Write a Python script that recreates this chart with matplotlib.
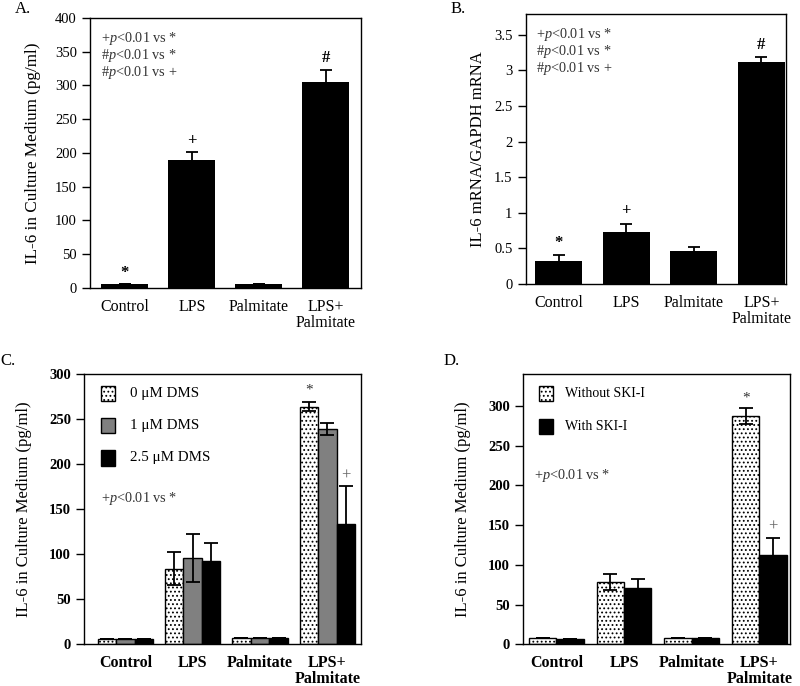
import numpy as np
import matplotlib
matplotlib.use("Agg")
import matplotlib.pyplot as plt
from matplotlib.patches import Rectangle

plt.rcParams['font.family'] = ['Liberation Serif', 'DejaVu Serif']
plt.rcParams['mathtext.fontset'] = 'custom'
plt.rcParams['mathtext.rm'] = 'Liberation Serif'
plt.rcParams['mathtext.it'] = 'Liberation Serif:italic'
plt.rcParams['hatch.linewidth'] = 0.8
plt.rcParams['hatch.color'] = '#333333'

categories = ['Control', 'LPS', 'Palmitate', 'LPS+\nPalmitate']

# panel A: IL-6 protein
a_vals = [6, 189, 6, 305]
a_err = [0, 12, 0, 18]
a_marks = ['*', '+', '', '#']
a_mark_y = [22, 218, 0, 341]

# panel B: IL-6 mRNA
b_vals = [0.32, 0.73, 0.46, 3.11]
b_err = [0.09, 0.11, 0.06, 0.07]
b_marks = ['*', '+', '', '#']
b_mark_y = [0.57, 1.03, 0, 3.35]

# panel C: DMS
c_labels = ['0 \u03bcM DMS', '1 \u03bcM DMS', '2.5 \u03bcM DMS']
c_vals = [[6, 84, 7.4, 264],
          [6, 96, 7.4, 239],
          [6, 93, 7.4, 134]]
c_err = [[0, 18, 0, 5],
         [0, 27, 0, 7],
         [0, 20, 0, 42]]

# panel D: SKI-I
d_labels = ['Without SKI-I', 'With SKI-I']
d_vals = [[8.4, 78, 8.4, 287],
          [7.1, 71, 8.4, 112]]
d_err = [[0, 10, 0, 10],
         [0, 11, 0, 22]]

fig = plt.figure(figsize=(8, 6.86), dpi=100)
x = np.arange(4)


def style_axes(ax, bold=False):
    for s in ax.spines.values():
        s.set_linewidth(1.0)
    ax.tick_params(axis='y', direction='out', length=6, width=1, labelsize=10.5)
    ax.tick_params(axis='x', length=0, labelsize=11.5, pad=8)
    ax.set_xticks(x)
    ax.set_xticklabels(categories, fontweight='bold' if bold else 'normal', linespacing=1.0)
    if bold:
        for t in ax.get_yticklabels():
            t.set_fontweight('bold')


def sig_text(ax, x0, y0, lines, dy, fs=10.3):
    for i, (sym, ref) in enumerate(lines):
        ax.text(x0, y0 - i * dy, sym + r'$\mathit{p}$<0.01 vs ' + ref, transform=ax.transAxes,
                fontsize=fs, color='#333333', va='center')


# ---- A
ax = fig.add_axes([0.1125, 0.5802, 0.3385, 0.3936])
ax.bar(x, a_vals, 0.7, color='black')
ax.errorbar(x, a_vals, yerr=a_err, fmt='none', ecolor='black', elinewidth=1.3, capsize=4, capthick=1.3)
for i in range(4):
    ax.text(x[i], a_mark_y[i], a_marks[i], ha='center', va='center', fontsize=12, fontweight='bold')
ax.set_xlim(-0.52, 3.52)
ax.set_ylim(0, 400)
ax.set_yticks(np.arange(0, 401, 50))
ax.set_ylabel('IL-6 in Culture Medium (pg/ml)', fontsize=12.3, labelpad=10)
style_axes(ax)
sig_text(ax, 0.04, 0.925, [('+', '*'), ('#', '*'), ('#', '+')], 0.063)
fig.text(0.018, 0.998, 'A.', fontsize=12, va='top')

# ---- B
ax = fig.add_axes([0.657, 0.586, 0.326, 0.3936])
ax.bar(x, b_vals, 0.7, color='black')
ax.errorbar(x, b_vals, yerr=b_err, fmt='none', ecolor='black', elinewidth=1.3, capsize=4, capthick=1.3)
for i in range(4):
    ax.text(x[i], b_mark_y[i], b_marks[i], ha='center', va='center', fontsize=12, fontweight='bold')
ax.set_xlim(-0.49, 3.37)
ax.set_ylim(0, 3.79)
ax.set_yticks(np.arange(0, 3.51, 0.5))
ax.set_yticklabels(['0', '0.5', '1', '1.5', '2', '2.5', '3', '3.5'])
ax.set_ylabel('IL-6 mRNA/GAPDH mRNA', fontsize=12, labelpad=6)
style_axes(ax)
sig_text(ax, 0.04, 0.925, [('+', '*'), ('#', '*'), ('#', '+')], 0.063)
fig.text(0.563, 0.998, 'B.', fontsize=12, va='top')

# ---- C
ax = fig.add_axes([0.1054, 0.0608, 0.3458, 0.3936])
w = 0.275
c_styles = [dict(facecolor='white', hatch='....'), dict(facecolor='#808080'), dict(facecolor='black')]
for j in range(3):
    xs = x + (j - 1) * w
    ax.bar(xs, c_vals[j], w, edgecolor='black', linewidth=1.0, **c_styles[j])
    ax.errorbar(xs, c_vals[j], yerr=c_err[j], fmt='none', ecolor='black', elinewidth=1.3, capsize=5, capthick=1.3)
ax.text(3 - w, 282, '*', ha='center', va='center', fontsize=11, color='#333333')
ax.text(3 + w, 187, '+', ha='center', va='center', fontsize=12, color='#666666')
ax.set_xlim(-0.61, 3.5)
ax.set_ylim(0, 300)
ax.set_yticks(np.arange(0, 301, 50))
ax.set_ylabel('IL-6 in Culture Medium (pg/ml)', fontsize=12, labelpad=12)
style_axes(ax, bold=True)
for j in range(3):
    yy = 0.93 - j * 0.12
    ax.add_patch(Rectangle((0.06, yy - 0.028), 0.05, 0.056, transform=ax.transAxes,
                           edgecolor='black', linewidth=1.0, **c_styles[j]))
    ax.text(0.165, yy, c_labels[j], transform=ax.transAxes, fontsize=10.8, va='center')
sig_text(ax, 0.06, 0.54, [('+', '*')], 0)
fig.text(0.0, 0.985 - 0.5, 'C.', fontsize=12, va='top')

# ---- D
ax = fig.add_axes([0.654, 0.0608, 0.334, 0.3936])
w = 0.405
d_styles = [dict(facecolor='white', hatch='....'), dict(facecolor='black')]
for j in range(2):
    xs = x + (j - 0.5) * w
    ax.bar(xs, d_vals[j], w, edgecolor='black', linewidth=1.0, **d_styles[j])
    ax.errorbar(xs, d_vals[j], yerr=d_err[j], fmt='none', ecolor='black', elinewidth=1.3, capsize=5, capthick=1.3)
ax.text(3 - w / 2, 310, '*', ha='center', va='center', fontsize=11, color='#333333')
ax.text(3 + w / 2, 148, '+', ha='center', va='center', fontsize=12, color='#666666')
ax.set_xlim(-0.49, 3.46)
ax.set_ylim(0, 340)
ax.set_yticks(np.arange(0, 301, 50))
ax.set_ylabel('IL-6 in Culture Medium (pg/ml)', fontsize=12, labelpad=12)
style_axes(ax, bold=True)
for j in range(2):
    yy = 0.93 - j * 0.122
    ax.add_patch(Rectangle((0.06, yy - 0.028), 0.05, 0.056, transform=ax.transAxes,
                           edgecolor='black', linewidth=1.0, **d_styles[j]))
    ax.text(0.155, yy, d_labels[j], transform=ax.transAxes, fontsize=10, va='center')
sig_text(ax, 0.04, 0.625, [('+', '*')], 0)
fig.text(0.555, 0.985 - 0.5, 'D.', fontsize=12, va='top')

fig.savefig('out.png', dpi=100)
